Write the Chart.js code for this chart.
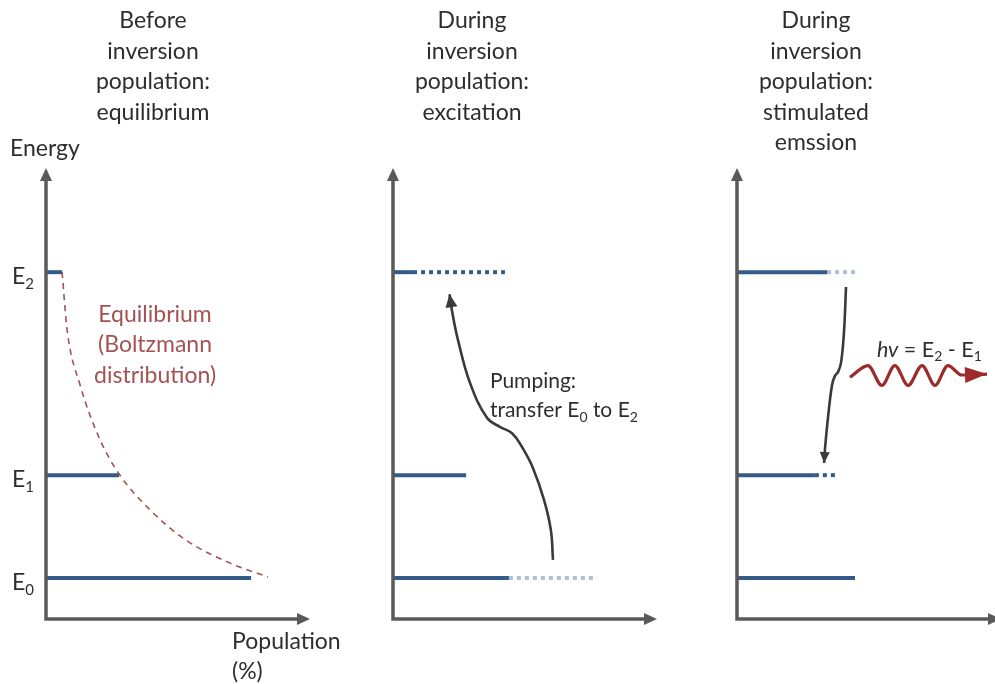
<!DOCTYPE html>
<html><head><meta charset="utf-8">
<script src="https://cdn.jsdelivr.net/npm/chart.js@4.4.1/dist/chart.umd.min.js"></script>
<style>
html,body{margin:0;padding:0;background:#fff;overflow:hidden;width:995px;height:684px}
#wrap{position:relative;width:1010px;height:684px}
canvas{position:absolute;left:0;top:0}
</style></head><body>
<div id="wrap"><canvas id="c1" width="1010" height="684"></canvas><canvas id="c2" width="1010" height="684"></canvas><canvas id="c3" width="1010" height="684"></canvas></div>
<script>
// ---------- data ----------
const LEVEL_LABELS = ['E_0', 'E_1', 'E_2'];
const LEVEL_ENERGY = [9.1, 31.9, 76.9];

const TITLE_1 = ['Before', 'inversion', 'population:', 'equilibrium'];
const TITLE_2 = ['During', 'inversion', 'population:', 'excitation'];
const TITLE_3 = ['During', 'inversion', 'population:', 'stimulated', 'emssion'];
const Y_AXIS_LABEL = ['Energy'];
const X_AXIS_LABEL = ['Population', '(%)'];
const CURVE_LABEL = ['Equilibrium', '(Boltzmann', 'distribution)'];
const PUMP_LABEL = ['Pumping:', 'transfer E_0 to E_2'];
const PHOTON_LABEL = ['*hv* = E_2 - E_1'];

// panel 1: equilibrium populations (E0, E1, E2)
const P1_SOLID_END = [77.7, 27.7, 6.1];
const BOLTZ_POP    = [6.1, 8.0, 12.9, 20.5, 28.0, 39.4, 53.0, 69.7, 84.1];
const BOLTZ_ENERGY = [76.9, 64.1, 51.9, 39.7, 31.9, 24.2, 17.5, 12.4, 9.3];

// panel 2: excitation
const P2_SOLID_END  = [43.9, 27.7, 7.6];
const P2_DOTTED_END = [77.3, null, 42.4];
const PUMP_POP    = [60.6, 59.8, 57.2, 53.0, 48.9, 45.1, 40.5, 35.6, 29.2, 24.6, 22.3, 21.4];
const PUMP_ENERGY = [13.1, 19.7, 26.4, 33.5, 38.1, 41.2, 42.6, 44.6, 52.3, 61.9, 68.5, 72.0];

// panel 3: stimulated emission
const P3_SOLID_END  = [44.7, 29.5, 34.1];
const P3_DOTTED_END = [null, 38.3, 45.8];
const DECAY_POP    = [41.3, 40.5, 39.4, 38.3, 37.1, 36.0, 34.5, 33.3, 33.0];
const DECAY_ENERGY = [73.6, 63.4, 56.8, 54.8, 53.9, 51.9, 44.8, 37.5, 34.6];
const PHOTON_POP    = [42.8, 49.6, 54.9, 59.8, 64.8, 70.1, 75.0, 79.9, 85.2, 94.7];
const PHOTON_ENERGY = [53.6, 56.2, 51.8, 56.2, 51.8, 56.2, 51.8, 56.2, 54.1, 54.3];

// ---------- styles ----------
const FONT = 'Lato, "Open Sans", sans-serif';
const DARK = '#345b88';
const LIGHT = '#a9bfd9';
const AXIS = '#5a5a5a';
const ARROW = '#3a3a3a';
const RED = '#9c2b2b';
const CURVE = '#a45252';
const TEXT = '#2e2e2e';

function pts(xs, ys) { return xs.map((x, i) => ({x: x, y: ys[i]})); }

function solidLevels(ends) {
  return ends.map((e, i) => ({
    data: [{x: 0, y: LEVEL_ENERGY[i]}, {x: e, y: LEVEL_ENERGY[i]}],
    borderColor: DARK, borderWidth: 4, borderCapStyle: 'butt'
  }));
}
function dottedLevels(starts, ends, colors) {
  const out = [];
  ends.forEach((e, i) => {
    if (e === null) return;
    out.push({
      data: [{x: starts[i], y: LEVEL_ENERGY[i]}, {x: e, y: LEVEL_ENERGY[i]}],
      borderColor: colors[i], borderWidth: 4, borderDash: [4, 4], borderCapStyle: 'butt'
    });
  });
  return out;
}

function parseRich(s) {
  const segs = []; let italic = false; let buf = '';
  for (let i = 0; i < s.length; i++) {
    const c = s[i];
    if (c === '*') { if (buf) { segs.push({t: buf, it: italic}); buf = ''; } italic = !italic; }
    else if (c === '_') { if (buf) { segs.push({t: buf, it: italic}); buf = ''; } segs.push({t: s[i + 1], sub: true, it: italic}); i++; }
    else buf += c;
  }
  if (buf) segs.push({t: buf, it: italic});
  return segs;
}
function drawRich(ctx, s, x, y, size, color, align) {
  const segs = parseRich(s);
  const fontOf = g => (g.it ? 'italic ' : '') + (g.sub ? Math.round(size * 0.66) : size) + 'px ' + FONT;
  let w = 0;
  segs.forEach(g => { ctx.font = fontOf(g); g.w = ctx.measureText(g.t).width; w += g.w; });
  let cx = align === 'center' ? x - w / 2 : x;
  ctx.fillStyle = color; ctx.textAlign = 'left'; ctx.textBaseline = 'alphabetic';
  const base = y + size * 0.36;
  segs.forEach(g => { ctx.font = fontOf(g); ctx.fillText(g.t, cx, g.sub ? base + size * 0.2 : base); cx += g.w; });
}
function head(ctx, tx, ty, fx, fy, len, half, color) {
  const a = Math.atan2(ty - fy, tx - fx);
  ctx.save(); ctx.fillStyle = color; ctx.beginPath();
  ctx.moveTo(tx, ty);
  ctx.lineTo(tx - len * Math.cos(a) + half * Math.sin(a), ty - len * Math.sin(a) - half * Math.cos(a));
  ctx.lineTo(tx - len * Math.cos(a) - half * Math.sin(a), ty - len * Math.sin(a) + half * Math.cos(a));
  ctx.closePath(); ctx.fill(); ctx.restore();
}

function makeChart(id, cfg) {
  const decor = {
    id: 'decor',
    afterDatasetsDraw(chart) {
      const ctx = chart.ctx, a = chart.chartArea, xs = chart.scales.x, ys = chart.scales.y;
      ctx.save();
      chart.data.datasets.forEach((ds, i) => {
        if (!ds.arrowHead) return;
        const d = chart.getDatasetMeta(i).data, n = d.length;
        head(ctx, d[n - 1].x, d[n - 1].y, d[n - 2].x, d[n - 2].y, ds.arrowHead[0], ds.arrowHead[1], ds.borderColor);
      });
      ctx.strokeStyle = AXIS; ctx.lineWidth = 3.5; ctx.lineCap = 'butt';
      ctx.beginPath();
      ctx.moveTo(a.left, a.top + 10); ctx.lineTo(a.left, a.bottom);
      ctx.lineTo(a.right - 10, a.bottom); ctx.stroke();
      head(ctx, a.left, a.top, a.left, a.bottom, 13, 6, AXIS);
      head(ctx, a.right, a.bottom, a.left, a.bottom, 13, 6, AXIS);
      cfg.title.forEach((t, k) => drawRich(ctx, t, a.left + cfg.titleDx, a.top - 148 + k * 30.5, 23, TEXT, 'center'));
      (cfg.notes || []).forEach(nt => {
        nt.lines.forEach((t, k) => drawRich(ctx, t, xs.getPixelForValue(nt.x), ys.getPixelForValue(nt.y) + k * nt.lh, nt.size, nt.color, nt.align));
      });
      (cfg.labels || []).forEach(lb => {
        lb.lines.forEach((t, k) => drawRich(ctx, t, a.left + lb.dx, (lb.fromBottom ? a.bottom : a.top) + lb.dy + k * 30, 23, TEXT, 'left'));
      });
      if (cfg.levelLabels) {
        LEVEL_LABELS.forEach((t, i) => drawRich(ctx, t, a.left - 34, ys.getPixelForValue(LEVEL_ENERGY[i]) + 4, 23, TEXT, 'left'));
      }
      ctx.restore();
    }
  };
  return new Chart(document.getElementById(id), {
    type: 'scatter',
    data: {datasets: cfg.datasets.map(d => Object.assign({showLine: true, pointRadius: 0, clip: false, fill: false}, d))},
    options: {
      responsive: false, animation: false, events: [],
      layout: {padding: cfg.padding},
      plugins: {legend: {display: false}, tooltip: {enabled: false}, title: {display: false}},
      scales: {
        x: {type: 'linear', min: 0, max: 100, display: false},
        y: {type: 'linear', min: 0, max: 100, display: false}
      }
    },
    plugins: [decor]
  });
}

makeChart('c1', {
  padding: {left: 46, right: 700, top: 168, bottom: 65},
  title: TITLE_1, titleDx: 107, levelLabels: true,
  datasets: [
    ...solidLevels(P1_SOLID_END),
    {data: pts(BOLTZ_POP, BOLTZ_ENERGY), borderColor: CURVE, borderWidth: 1.6, borderDash: [6, 5], cubicInterpolationMode: 'monotone'}
  ],
  notes: [{lines: CURVE_LABEL, x: 41.3, y: 67.8, lh: 30.5, size: 23, color: CURVE, align: 'center'}],
  labels: [
    {lines: Y_AXIS_LABEL, dx: -36, dy: -20},
    {lines: X_AXIS_LABEL, dx: 186, dy: 22, fromBottom: true}
  ]
});

makeChart('c2', {
  padding: {left: 393, right: 353, top: 168, bottom: 65},
  title: TITLE_2, titleDx: 79,
  datasets: [
    ...solidLevels(P2_SOLID_END),
    ...dottedLevels(P2_SOLID_END, P2_DOTTED_END, [LIGHT, DARK, DARK]),
    {data: pts(PUMP_POP, PUMP_ENERGY), borderColor: ARROW, borderWidth: 2.6, tension: 0.4, arrowHead: [13, 6]}
  ],
  notes: [{lines: PUMP_LABEL, x: 36.7, y: 52.8, lh: 29, size: 21, color: TEXT, align: 'left'}]
});

makeChart('c3', {
  padding: {left: 737, right: 9, top: 168, bottom: 65},
  title: TITLE_3, titleDx: 79,
  datasets: [
    ...solidLevels(P3_SOLID_END),
    ...dottedLevels(P3_SOLID_END, P3_DOTTED_END, [DARK, DARK, LIGHT]),
    {data: pts(DECAY_POP, DECAY_ENERGY), borderColor: ARROW, borderWidth: 2.6, tension: 0.4, arrowHead: [11, 5]},
    {data: pts(PHOTON_POP, PHOTON_ENERGY), borderColor: RED, borderWidth: 3.2, cubicInterpolationMode: 'monotone', arrowHead: [22, 8]}
  ],
  notes: [{lines: PHOTON_LABEL, x: 53.0, y: 59.9, lh: 29, size: 21.5, color: TEXT, align: 'left'}]
});
</script>
</body></html>
